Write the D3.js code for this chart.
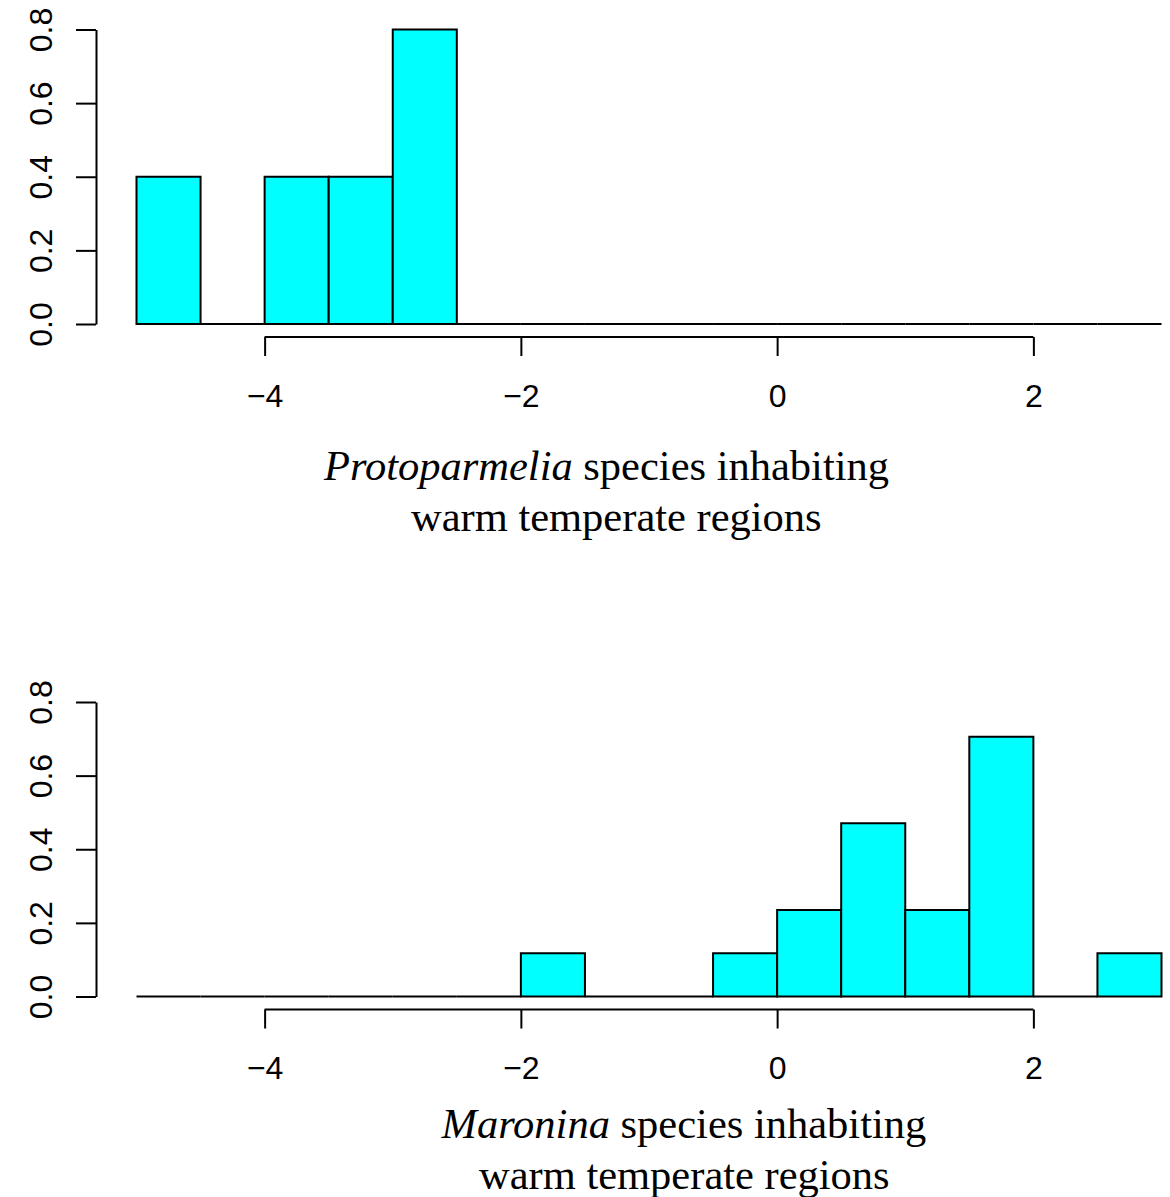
<!DOCTYPE html>
<html>
    <head>
        <meta charset="UTF-8">
        <script src="https://cdn.jsdelivr.net/npm/d3@7"></script>
        <title>Warm temperate histograms</title>
        <style>
            body { margin: 0; background: white; }
            svg { display: block; }
        </style>
    </head>
    <body>
        <div id="ChartContainer"></div>
    </body>
    <script>
        // histogram bins (width 0.5) and densities
        const binEdges = [-5, -4.5, -4, -3.5, -3, -2.5, -2, -1.5, -1, -0.5, 0, 0.5, 1, 1.5, 2, 2.5, 3]
        const protoparmeliaDensity = [0.4, 0, 0.4, 0.4, 0.8, 0, 0, 0, 0, 0, 0, 0, 0, 0, 0, 0]
        const maroninaDensity = [0, 0, 0, 0, 0, 0, 0.1176, 0, 0, 0.1176, 0.2353, 0.4706, 0.2353, 0.7059, 0, 0.1176]
        const xTicks = [-4, -2, 0, 2]
        const yTicks = [0, 0.2, 0.4, 0.6, 0.8]
        const protoparmeliaTitle = [["Protoparmelia", " species inhabiting"], ["", "warm temperate regions"]]
        const maroninaTitle = [["Maronina", " species inhabiting"], ["", "warm temperate regions"]]

        const width = 1170
        const height = 1197

        const svg = d3.select("#ChartContainer")
            .append("svg")
            .attr("width", width)
            .attr("height", height)

        const x = d3.scaleLinear()
            .domain([-5, 3])
            .range([136.5, 1161.5])

        const y = d3.scaleLinear()
            .domain([0, 0.8])
            .range([324, 29.5])

        const draw_panel = (density, title, offset, titleLeft, titleBaseline) => {
            const g = svg.append("g")
                .attr("transform", "translate(0," + offset + ")")

            const bins = density.map((d, i) => ({ x0: binEdges[i], x1: binEdges[i + 1], value: d }))

            // paths rather than rects so zero-height bins still show as a line
            g.selectAll("path.bar")
                .data(bins)
                .enter()
                .append("path")
                .attr("class", "bar")
                .attr("d", b => `M${x(b.x0)},${y(0)}V${y(b.value)}H${x(b.x1)}V${y(0)}Z`)
                .attr("fill", "#00ffff")
                .attr("stroke", "black")
                .attr("stroke-width", 2)

            const xAxis = g.append("g")
                .attr("transform", "translate(0,337)")
                .call(d3.axisBottom(x)
                    .tickValues(xTicks)
                    .tickSize(19)
                    .tickSizeOuter(0)
                    .tickFormat(d => String(d).replace("-", "\u2212")))
            xAxis.select(".domain")
                .attr("d", `M${x(xTicks[0])},0H${x(xTicks[xTicks.length - 1])}`)

            const yAxis = g.append("g")
                .attr("transform", "translate(96,0)")
                .call(d3.axisLeft(y)
                    .tickValues(yTicks)
                    .tickSize(20)
                    .tickSizeOuter(0)
                    .tickFormat(d3.format(".1f")))

            g.selectAll(".domain, .tick line")
                .attr("stroke", "black")
                .attr("stroke-width", 2)

            xAxis.selectAll(".tick text")
                .attr("y", 0)
                .attr("dy", 0)
                .attr("transform", "translate(0,69.5)")
                .style("font-family", "'Liberation Sans', Arial, sans-serif")
                .style("font-size", "32px")
                .attr("fill", "black")

            yAxis.selectAll(".tick text")
                .attr("x", 0)
                .attr("dy", 0)
                .attr("transform", "translate(-44,0) rotate(-90)")
                .attr("text-anchor", "middle")
                .style("font-family", "'Liberation Sans', Arial, sans-serif")
                .style("font-size", "32px")
                .attr("fill", "black")

            const titleText = g.append("text")
                .style("font-family", "'Liberation Serif', 'Times New Roman', serif")
                .style("font-size", "42.5px")
                .attr("fill", "black")

            title.forEach((line, i) => {
                const lineText = titleText.append("tspan")
                    .attr("x", titleLeft[i])
                    .attr("y", titleBaseline + i * 51)
                lineText.append("tspan")
                    .style("font-style", "italic")
                    .text(line[0])
                lineText.append("tspan")
                    .style("white-space", "pre")
                    .text(line[1])
            })
        }

        draw_panel(protoparmeliaDensity, protoparmeliaTitle, 0, [324, 411], 479.5)
        draw_panel(maroninaDensity, maroninaTitle, 672.5, [441.5, 479], 465.5)
    </script>
</html>
